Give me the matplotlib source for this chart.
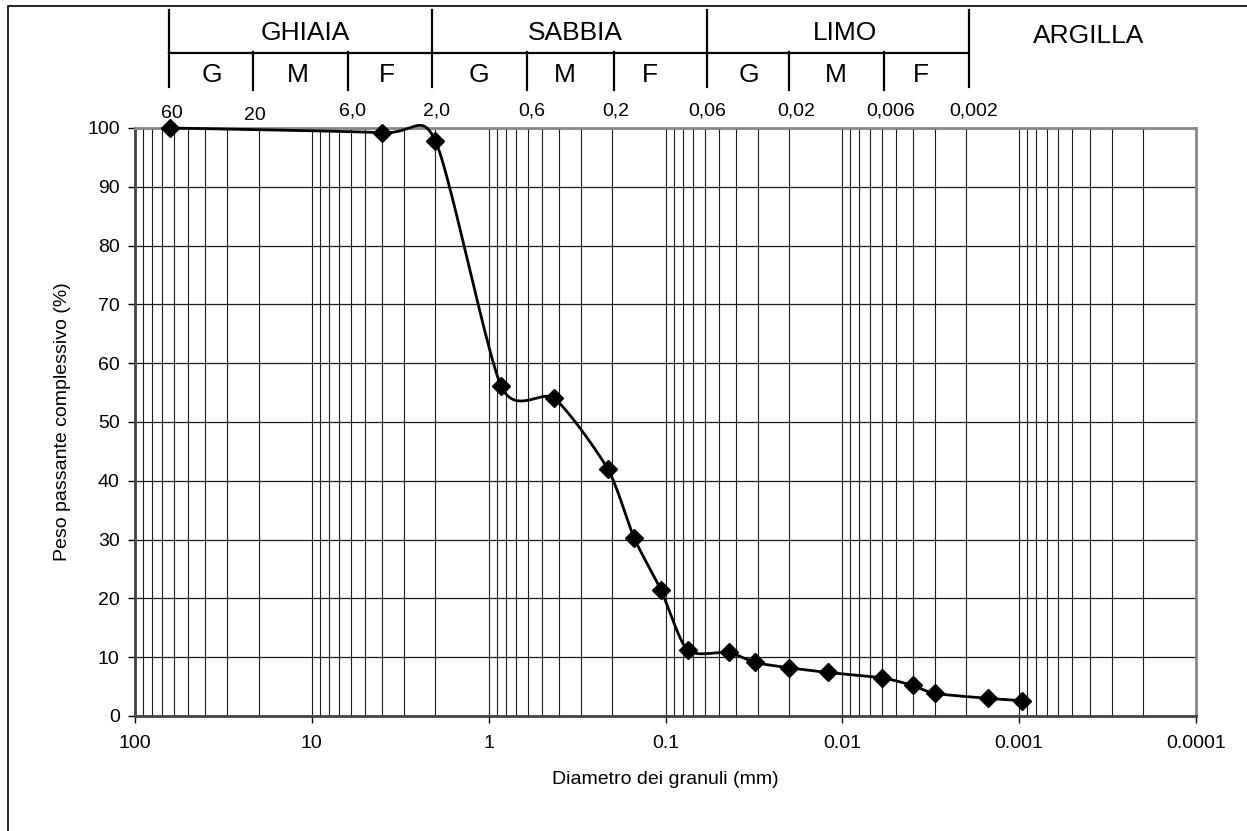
import numpy as np
import matplotlib
matplotlib.use("Agg")
import matplotlib.pyplot as plt
from matplotlib.lines import Line2D
from matplotlib.patches import Rectangle
from matplotlib.ticker import FixedLocator, LogLocator, NullFormatter

plt.rcParams['font.family'] = ['Liberation Sans', 'DejaVu Sans']

# curva granulometrica (diametro mm, passante %)
diametro = [63, 4.0, 2.0, 0.85, 0.425, 0.212, 0.15, 0.106, 0.075, 0.044,
            0.031, 0.020, 0.012, 0.006, 0.0040, 0.0030, 0.0015, 0.00096]
passante = [100, 99.2, 97.8, 56.1, 54.0, 42.0, 30.2, 21.4, 11.2, 10.8,
            9.1, 8.2, 7.4, 6.5, 5.2, 3.85, 3.0, 2.6]

x_ticks = [100, 10, 1, 0.1, 0.01, 0.001, 0.0001]
x_ticklabels = ['100', '10', '1', '0.1', '0.01', '0.001', '0.0001']
y_ticks = list(range(0, 101, 10))

# intestazione classi granulometriche
classi = ['GHIAIA', 'SABBIA', 'LIMO', 'ARGILLA']
sottoclassi = ['G', 'M', 'F']
setacci = ['60', '20', '6,0', '2,0', '0,6', '0,2', '0,06', '0,02', '0,006', '0,002']

W, H = 1247, 831
fig = plt.figure(figsize=(W / 100, H / 100), dpi=100)
ax = fig.add_axes([135 / W, 1 - 716 / H, 1061 / W, 588 / H])


def px(x, y):
    """ pixel (da in alto a sinistra) -> frazione figura """
    return x / W, 1 - y / H


def smooth(xs, ys, n=40, k=0.12):
    """ linea smussata tipo Excel (Bezier) nello spazio pixel """
    kx, ky = 176.8, 5.88
    P = np.column_stack([np.log10(xs) * kx, np.asarray(ys) * ky])
    Pe = np.vstack([P[0], P, P[-1]])
    t = np.linspace(0, 1, n)[:, None]
    pts = []
    for i in range(len(P) - 1):
        p0, p1, p2, p3 = Pe[i], Pe[i + 1], Pe[i + 2], Pe[i + 3]
        c1 = p1 + (p2 - p0) * k
        c2 = p2 - (p3 - p1) * k
        b = (1 - t) ** 3 * p1 + 3 * (1 - t) ** 2 * t * c1 + 3 * (1 - t) * t ** 2 * c2 + t ** 3 * p2
        pts.append(b)
    pts = np.vstack(pts)
    return 10 ** (pts[:, 0] / kx), pts[:, 1] / ky


ax.set_xscale('log')
ax.set_xlim(100, 0.0001)
ax.set_ylim(0, 100)

sx, sy = smooth(diametro, passante)
ax.plot(sx, sy, color='black', lw=2, zorder=3, clip_on=False)
ax.plot(diametro, passante, ls='none', marker='D', ms=9, color='black', zorder=4, clip_on=False)

ax.xaxis.set_major_locator(FixedLocator(x_ticks))
ax.set_xticklabels(x_ticklabels)
ax.xaxis.set_minor_locator(LogLocator(base=10, subs=np.arange(2, 10), numticks=20))
ax.xaxis.set_minor_formatter(NullFormatter())
ax.set_yticks(y_ticks)
ax.grid(True, which='both', axis='x', color='#1a1a1a', lw=0.8)
ax.grid(True, which='major', axis='y', color='#1a1a1a', lw=0.9)
ax.set_axisbelow(True)
ax.tick_params(axis='x', which='major', direction='out', length=5, width=1, pad=9, labelsize=14)
ax.tick_params(axis='x', which='minor', length=0)
ax.tick_params(axis='y', direction='out', length=5, width=1, pad=6, labelsize=14)
for s in ['top', 'right']:
    ax.spines[s].set_color('#888888')
    ax.spines[s].set_linewidth(2)
for s in ['left', 'bottom']:
    ax.spines[s].set_color('#444444')
    ax.spines[s].set_linewidth(2)

ax.set_xlabel('Diametro dei granuli (mm)', fontsize=14)
ax.xaxis.set_label_coords(0.5, -0.093)
ax.set_ylabel('Peso passante complessivo (%)', fontsize=14, va='center')
ax.yaxis.set_label_coords(-0.068, 0.5)

# bordo esterno
fig.add_artist(Rectangle((8 / W, -0.05), 1.2, (1 - 6 / H) + 0.05, transform=fig.transFigure,
                         fill=False, edgecolor='black', lw=1.2))

# linee intestazione
lk = dict(transform=fig.transFigure, color='black', lw=1.6)
for xv in [169, 432, 707, 969]:
    (x0, y0), (x1, y1) = px(xv, 10), px(xv, 87)
    fig.add_artist(Line2D([x0, x1], [y0, y1], **lk))
for xv in [253, 348, 527, 614, 789, 884]:
    (x0, y0), (x1, y1) = px(xv, 52), px(xv, 90)
    fig.add_artist(Line2D([x0, x1], [y0, y1], **lk))
(x0, y0), (x1, y1) = px(169, 52.5), px(969, 52.5)
fig.add_artist(Line2D([x0, x1], [y0, y1], **lk))

cls_pos = [(305, 33), (575, 33), (845, 33), (1089, 36)]
for name, (xv, yv) in zip(classi, cls_pos):
    fig.text(*px(xv, yv), name, fontsize=19, ha='center', va='center')
sub_x = [[212, 298, 387], [479, 565, 650], [749, 836, 921]]
for row in sub_x:
    for lab, xv in zip(sottoclassi, row):
        fig.text(*px(xv, 75), lab, fontsize=19, ha='center', va='center')

set_pos = [(172, 114), (255, 115), (353, 111), (436, 111), (532, 111), (616, 111),
           (707, 111), (796, 111), (891, 111), (974, 111)]
for lab, (xv, yv) in zip(setacci, set_pos):
    fig.text(*px(xv, yv), lab, fontsize=14, ha='center', va='center')

fig.savefig('out.png', dpi=100)
